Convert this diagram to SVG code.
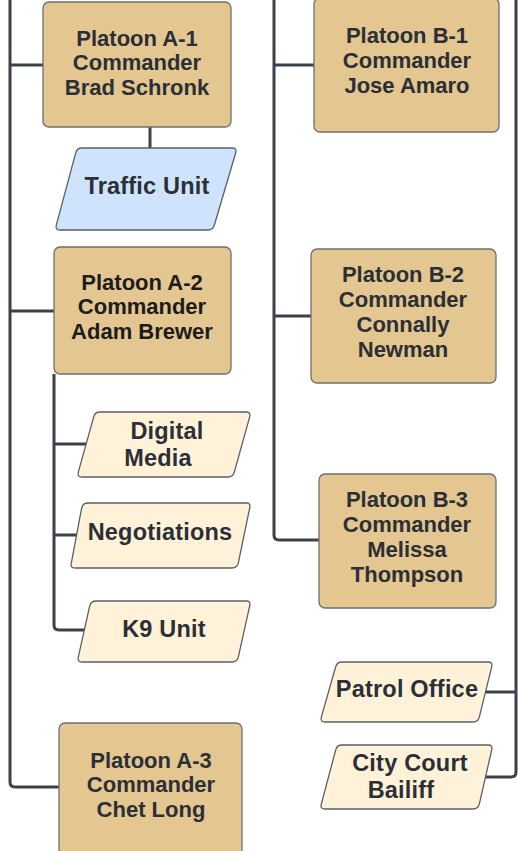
<svg xmlns="http://www.w3.org/2000/svg" width="518" height="851" viewBox="0 0 518 851">
<style>
.box{fill:#e3c690;stroke:#6f6f6f;stroke-width:1.3}
.para{fill:#fff2d8;stroke:#5a5f66;stroke-width:1.3;stroke-linejoin:round}
.blue{fill:#d0e3fd}
.conn{fill:none;stroke:#3b424a;stroke-width:3;stroke-linejoin:round}
text{font-family:"Liberation Sans",Arial,sans-serif;font-weight:bold;text-anchor:middle;fill:#2b2f36}
.t{font-size:22px}
.p{font-size:23.5px;letter-spacing:0.2px}
.dark{fill:#1c1c1c}
</style>
<rect width="518" height="851" fill="#ffffff"/>
<g id="connectors">
<path class="conn" d="M10,0 V782 Q10,787 15,787 H59"/>
<path class="conn" d="M10,65 H43"/>
<path class="conn" d="M10,311 H54"/>
<path class="conn" d="M150,127 V148"/>
<path class="conn" d="M54,374 V625 Q54,630 59,630 H84"/>
<path class="conn" d="M54,444 H87"/>
<path class="conn" d="M54,535 H77"/>
<path class="conn" d="M274,0 V535 Q274,540 279,540 H319"/>
<path class="conn" d="M274,65 H314"/>
<path class="conn" d="M274,316 H311"/>
<path class="conn" d="M516,0 V772 Q516,777 511,777 H486"/>
<path class="conn" d="M516,692 H486"/>
</g>
<g id="platoon-a1">
<rect class="box" x="43" y="2" width="188" height="125" rx="6"/>
<text class="t" x="137" y="45.5">Platoon A-1</text>
<text class="t" x="137" y="70">Commander</text>
<text class="t" x="137" y="95">Brad Schronk</text>
</g>
<g id="traffic-unit">
<path class="para blue" d="M82,148 H232 Q237,148 235.7,152.8 L214.3,225.2 Q213,230 208,230 H60 Q55,230 56.3,225.2 L75.7,152.8 Q77,148 82,148 Z"/>
<text class="p" x="147" y="194">Traffic Unit</text>
</g>
<g id="platoon-b1">
<rect class="box" x="314" y="-2" width="185" height="134" rx="6"/>
<text class="t" x="407" y="43">Platoon B-1</text>
<text class="t" x="407" y="68">Commander</text>
<text class="t" x="407" y="93">Jose Amaro</text>
</g>
<g id="platoon-a2">
<rect class="box" x="54" y="247" width="177" height="127" rx="6"/>
<text class="t dark" x="142" y="290">Platoon A-2</text>
<text class="t dark" x="142" y="314">Commander</text>
<text class="t dark" x="142" y="339">Adam Brewer</text>
</g>
<g id="platoon-b2">
<rect class="box" x="311" y="249" width="185" height="134" rx="6"/>
<text class="t" x="403" y="282">Platoon B-2</text>
<text class="t" x="403" y="307">Commander</text>
<text class="t" x="403" y="332">Connally</text>
<text class="t" x="403" y="357">Newman</text>
</g>
<g id="digital-media">
<path class="para" d="M100,412 H246 Q251,412 249.7,416.8 L234.3,472.2 Q233,477 228,477 H82 Q77,477 78.3,472.2 L93.7,416.8 Q95,412 100,412 Z"/>
<text class="p" x="167" y="439">Digital</text>
<text class="p" x="158" y="466">Media</text>
</g>
<g id="platoon-b3">
<rect class="box" x="319" y="474" width="177" height="134" rx="6"/>
<text class="t" x="407" y="507">Platoon B-3</text>
<text class="t" x="407" y="532">Commander</text>
<text class="t" x="407" y="557">Melissa</text>
<text class="t" x="407" y="582">Thompson</text>
</g>
<g id="negotiations">
<path class="para" d="M88,503 H246 Q251,503 249.7,507.8 L238.3,563.2 Q237,568 232,568 H75 Q70,568 71.3,563.2 L81.7,507.8 Q83,503 88,503 Z"/>
<text class="p" x="160" y="540">Negotiations</text>
</g>
<g id="k9-unit">
<path class="para" d="M96,601 H246 Q251,601 249.7,605.8 L238.3,657.2 Q237,662 232,662 H82 Q77,662 78.3,657.2 L89.7,605.8 Q91,601 96,601 Z"/>
<text class="p" x="164" y="637">K9 Unit</text>
</g>
<g id="patrol-office">
<path class="para" d="M342,662 H488 Q493,662 491.7,666.8 L479.3,717.2 Q478,722 473,722 H325 Q320,722 321.3,717.2 L335.7,666.8 Q337,662 342,662 Z"/>
<text class="p" x="407" y="697">Patrol Office</text>
</g>
<g id="city-court-bailiff">
<path class="para" d="M342,745 H488 Q493,745 491.7,749.8 L479.3,804.2 Q478,809 473,809 H325 Q320,809 321.3,804.2 L335.7,749.8 Q337,745 342,745 Z"/>
<text class="p" x="410" y="771">City Court</text>
<text class="p" x="401" y="798">Bailiff</text>
</g>
<g id="platoon-a3">
<rect class="box" x="59" y="723" width="183" height="132" rx="6"/>
<text class="t" x="151" y="768">Platoon A-3</text>
<text class="t" x="151" y="792">Commander</text>
<text class="t" x="151" y="817">Chet Long</text>
</g>
</svg>
